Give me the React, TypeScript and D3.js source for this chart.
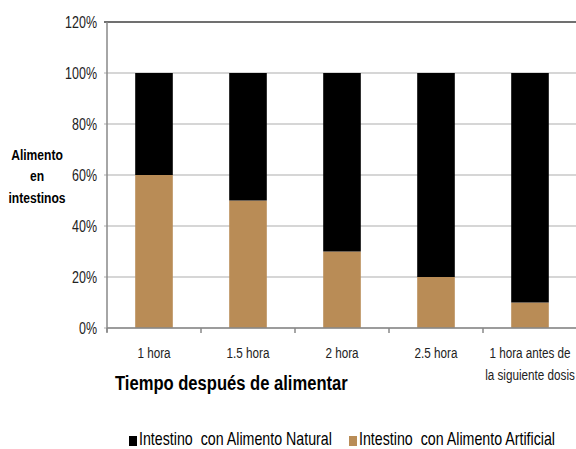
import React from "react";
import * as d3 from "d3";

const categories = ["1 hora", "1.5 hora", "2 hora", "2.5 hora", "1 hora antes de\nla siguiente dosis"];
const artificial = [60, 50, 30, 20, 10];
const natural = [40, 50, 70, 80, 90];
const yTicks = [0, 20, 40, 60, 80, 100, 120];
const seriesNames = ["Intestino  con Alimento Natural", "Intestino  con Alimento Artificial"];

const W = 576, H = 449;
const left = 107, right = 577, top = 22, bottom = 328;
const FONT = "'Liberation Sans Narrow', 'Arial Narrow', 'Liberation Sans', Arial, sans-serif";
const TAN = "#B98C56";
const SX = 0.78;

function NText({ x, y, size, anchor = "start", bold = false, fill = "#222", sx = SX, children }: any) {
  return (
    <text
      transform={`translate(${x},${y}) scale(${sx},1)`}
      textAnchor={anchor}
      fontSize={size}
      fontWeight={bold ? "bold" : "normal"}
      fill={fill}
      style={{ whiteSpace: "pre" }}
    >
      {children}
    </text>
  );
}

export default function App() {
  const x = d3.scaleBand().domain(categories).range([left, right]).paddingInner(0.6).paddingOuter(0.3);
  const xb = d3.scaleBand().domain(categories).range([left, right]);
  const y = d3.scaleLinear().domain([0, 120]).range([bottom, top]);
  return (
    <svg width={W} height={H} style={{ position: "absolute", left: 0, top: 0, background: "#fff" }} fontFamily={FONT}>
      {yTicks.map((t) => (
        <g key={t}>
          <line x1={left - 3} x2={right} y1={y(t)} y2={y(t)} stroke={t === 120 ? "#707070" : "#c8c8c8"} strokeWidth={t === 120 ? 2.2 : 1.5} />
          <NText x={97} y={y(t) + 5.5} size={16} anchor="end">{t}%</NText>
        </g>
      ))}
      {categories.map((c, i) => (
        <g key={c}>
          <rect x={x(c)} width={x.bandwidth()} y={y(artificial[i])} height={y(0) - y(artificial[i])} fill={TAN} />
          <rect x={x(c)} width={x.bandwidth()} y={y(artificial[i] + natural[i])} height={y(artificial[i]) - y(artificial[i] + natural[i])} fill="#000" />
        </g>
      ))}
      <line x1={left} x2={left} y1={top} y2={bottom + 4} stroke="#888" strokeWidth={1.5} />
      <line x1={left} x2={right} y1={bottom} y2={bottom} stroke="#888" strokeWidth={1.5} />
      {categories.map((c) => (
        <line key={"t" + c} x1={xb(c)} x2={xb(c)} y1={bottom} y2={bottom + 5} stroke="#888" strokeWidth={1.5} />
      ))}
      {categories.map((c) =>
        c.split("\n").map((line, k) => (
          <NText key={c + k} x={(x(c) as number) + x.bandwidth() / 2} y={358 + k * 22} size={15} anchor="middle">{line}</NText>
        ))
      )}
      <NText x={115} y={390} size={21} bold fill="#000" sx={0.79}>Tiempo después de alimentar</NText>
      <NText x={37} y={160} size={15.5} bold fill="#000" anchor="middle">Alimento</NText>
      <NText x={37} y={181} size={15.5} bold fill="#000" anchor="middle">en</NText>
      <NText x={37} y={203} size={15.5} bold fill="#000" anchor="middle">intestinos</NText>
      <rect x={129} y={436} width={8} height={10} fill="#000" />
      <NText x={139} y={445} size={18} fill="#000" sx={0.79}>{seriesNames[0]}</NText>
      <rect x={349} y={436} width={8} height={10} fill={TAN} />
      <NText x={359} y={445} size={18} fill="#000" sx={0.79}>{seriesNames[1]}</NText>
    </svg>
  );
}
